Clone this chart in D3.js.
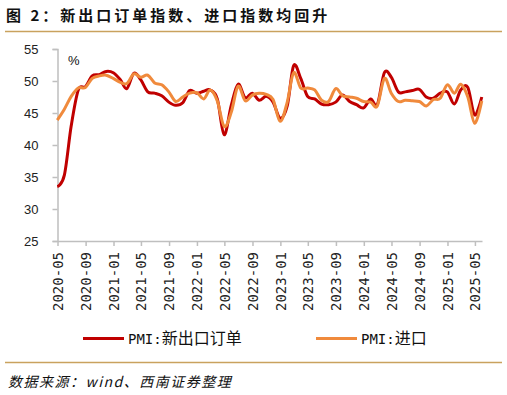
<!DOCTYPE html>
<html>
<head>
<meta charset="utf-8">
<script src="https://cdn.jsdelivr.net/npm/d3@7"></script>
<style>
  body { margin: 0; background: #fff; }
  svg { display: block; }
</style>
</head>
<body>
<div id="chart"></div>
<script>
// monthly data, Apr 2020 - May 2025
const startMonth = new Date(2020, 3, 1);

const exportOrders = [
  33.5, 35.3, 43.0, 48.6, 49.1, 50.8, 51.0, 51.5, 51.3,
  50.2, 48.8, 51.2, 50.2, 48.3, 48.1, 47.7, 46.7, 46.2, 46.6, 48.5, 48.1,
  48.4, 48.6, 47.2, 41.6, 46.2, 49.5, 47.4, 48.1, 47.0, 47.6, 46.7, 44.2,
  46.1, 52.4, 50.4, 47.6, 47.2, 46.4, 46.3, 46.7, 47.8, 46.8, 46.3, 45.8,
  47.2, 46.3, 51.3, 50.6, 48.3, 48.3, 48.5, 48.7, 47.5, 47.3, 48.1, 48.3,
  46.4, 48.6, 49.0, 44.7, 47.5
];

const imports = [
  43.9, 45.6, 47.6, 48.9, 49.0, 50.4, 50.8, 50.9, 50.4,
  49.8, 49.6, 51.1, 50.6, 50.9, 49.7, 49.4, 48.3, 46.8, 47.5, 48.1, 48.2,
  47.2, 48.6, 46.9, 42.9, 45.1, 49.2, 46.9, 47.8, 48.1, 47.9, 47.1, 43.7,
  46.7, 51.3, 48.9, 48.9, 48.6, 47.0, 46.8, 48.8, 47.7, 47.5, 47.3, 46.8,
  46.7, 46.1, 50.4, 48.1, 46.8, 47.0, 46.9, 46.8, 46.1, 47.1, 47.3, 49.4,
  48.1, 49.5, 47.5, 43.4, 46.9
];

const tickLabels = [
  "2020-05", "2020-09", "2021-01", "2021-05", "2021-09", "2022-01",
  "2022-05", "2022-09", "2023-01", "2023-05", "2023-09", "2024-01",
  "2024-05", "2024-09", "2025-01", "2025-05"
];
const yTicks = [25, 30, 35, 40, 45, 50, 55];

const seriesNames = ["PMI:新出口订单", "PMI:进口"];
const seriesColors = ["#C00000", "#F08A3C"];

const chart = {
    "width": 507,
    "height": 395,
    "left": 57.5,
    "right": 482,
    "top": 49,
    "bottom": 241
};

const parseMonth = d3.timeParse("%Y-%m");

// each value sits at the end of its month
const dates = exportOrders.map((d, i) =>
    d3.timeDay.offset(d3.timeMonth.offset(startMonth, i + 1), -1));

const xScale = d3.scaleTime()
    .domain([parseMonth(tickLabels[0]), d3.timeMonth.offset(parseMonth(tickLabels[tickLabels.length - 1]), 1)])
    .range([chart.left, chart.right]);

const yScale = d3.scaleLinear()
    .domain([25, 55])
    .range([chart.bottom, chart.top]);

const svg = d3.select('#chart')
    .append('svg')
    .attr('width', chart.width)
    .attr('height', chart.height);

// title + rules
svg.append('text')
    .attr('x', 6)
    .attr('y', 21)
    .style('font-family', '"Noto Sans CJK SC", sans-serif')
    .style('font-weight', 'bold')
    .style('font-size', '15px')
    .style('letter-spacing', '3px')
    .attr('fill', '#111')
    .text('图 2：新出口订单指数、进口指数均回升');

svg.append('line')
    .attr('x1', 5).attr('x2', 502)
    .attr('y1', 31.5).attr('y2', 31.5)
    .attr('stroke', '#C9A25E')
    .attr('stroke-width', 1.5);

svg.append('line')
    .attr('x1', 5).attr('x2', 502)
    .attr('y1', 362.5).attr('y2', 362.5)
    .attr('stroke', '#C9A25E')
    .attr('stroke-width', 1.5);

// y axis
let yAxis = d3.axisLeft(yScale)
    .tickValues(yTicks)
    .tickSize(5)
    .tickPadding(14);

let yAxisG = svg.append('g')
    .attr('transform', `translate(${chart.left}, 0)`)
    .call(yAxis);

yAxisG.select('.domain').attr('stroke', '#BFBFBF').attr('stroke-width', 1.5);
yAxisG.selectAll('.tick line').attr('stroke', '#BFBFBF').attr('stroke-width', 1.5);
yAxisG.selectAll('.tick text')
    .style('font-family', '"Liberation Sans", Arial, sans-serif')
    .style('font-size', '13px')
    .attr('fill', '#222');

svg.append('text')
    .attr('x', 68)
    .attr('y', 65)
    .style('font-family', '"Liberation Sans", Arial, sans-serif')
    .style('font-size', '13px')
    .attr('fill', '#111')
    .text('%');

// x axis
let xAxis = d3.axisBottom(xScale)
    .tickValues(tickLabels.map(parseMonth))
    .tickFormat(d3.timeFormat("%Y-%m"))
    .tickSize(5)
    .tickSizeOuter(0);

let xAxisG = svg.append('g')
    .attr('transform', `translate(0, ${chart.bottom})`)
    .call(xAxis);

xAxisG.select('.domain').attr('stroke', '#BFBFBF').attr('stroke-width', 1.5);
xAxisG.selectAll('.tick line').attr('stroke', '#BFBFBF').attr('stroke-width', 1.5);
xAxisG.selectAll('.tick text')
    .attr('transform', 'rotate(-90)')
    .attr('text-anchor', 'end')
    .attr('x', -11)
    .attr('y', 0)
    .attr('dy', '0.35em')
    .style('font-family', '"DejaVu Sans Mono", monospace')
    .style('font-size', '14px')
    .attr('fill', '#222');

// lines
let line = d3.line()
    .x((d, i) => xScale(dates[i]))
    .y(d => yScale(d))
    .curve(d3.curveCatmullRom.alpha(0));

svg.append('g')
    .attr('id', 'lines')
    .selectAll('path')
    .data([exportOrders, imports])
    .join('path')
        .attr('d', d => line(d))
        .attr('fill', 'none')
        .attr('stroke', (d, i) => seriesColors[i])
        .attr('stroke-width', 3)
        .attr('stroke-linejoin', 'round');

// legend
let legendX = [83, 316];
let legend = svg.append('g')
    .selectAll('g')
    .data(seriesNames)
    .join('g')
        .attr('transform', (d, i) => `translate(${legendX[i]}, 338.5)`);

legend.append('line')
    .attr('x1', 0).attr('x2', 41)
    .attr('stroke', (d, i) => seriesColors[i])
    .attr('stroke-width', 3);

let legendText = legend.append('text')
    .attr('x', 45)
    .attr('y', 5.5)
    .attr('fill', '#111');

legendText.append('tspan')
    .style('font-family', '"DejaVu Sans Mono", monospace')
    .style('font-size', '14px')
    .text(d => d.slice(0, 4));

legendText.append('tspan')
    .style('font-family', '"Noto Sans CJK SC", sans-serif')
    .style('font-size', '16px')
    .text(d => d.slice(4));

// source
svg.append('text')
    .attr('x', 8)
    .attr('y', 387)
    .style('font-family', '"Noto Sans CJK SC", sans-serif')
    .style('font-style', 'italic')
    .style('font-size', '14px')
    .style('letter-spacing', '1.5px')
    .attr('fill', '#111')
    .text('数据来源：wind、西南证券整理');
</script>
</body>
</html>
